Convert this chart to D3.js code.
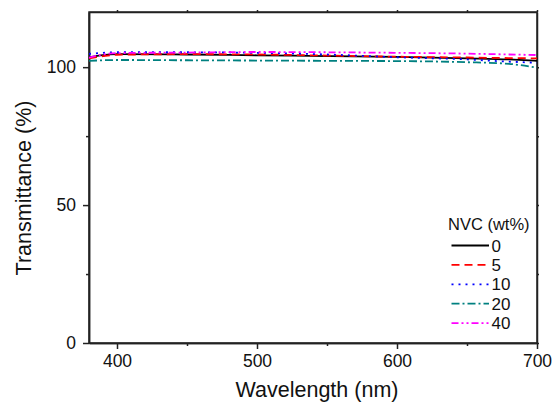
<!DOCTYPE html>
<html>
<head>
  <meta charset="utf-8">
  <style>
    body {
      margin: 0;
      background: #fff;
      font-family: "Liberation Sans", Arial, sans-serif;
    }
    .axis path, .axis line {
      stroke: #222;
      stroke-width: 1.5px;
    }
    .axis text {
      font-size: 17.5px;
      fill: #111;
    }
    .axistext {
      font-size: 21.5px;
      fill: #111;
    }
    .legend text {
      font-size: 16.5px;
      fill: #111;
    }
    .legend .label {
      font-size: 17px;
    }
  </style>
</head>
<body>
  <div class="chart"></div>

  <script src="https://cdn.jsdelivr.net/npm/d3@7"></script>
  <script>
    // wavelengths (nm) and transmittance (%)
    let wavelength = [380, 390, 400, 450, 500, 550, 600, 650, 680, 700];
    let nvc0  = [103.6, 104.4, 104.7, 104.6, 104.3, 104.0, 103.7, 103.2, 102.8, 102.3];
    let nvc5  = [103.2, 104.0, 104.5, 104.7, 104.6, 104.2, 103.8, 103.5, 103.3, 103.2];
    let nvc10 = [104.8, 105.2, 105.4, 105.4, 105.2, 104.6, 103.6, 102.8, 102.0, 101.6];
    let nvc20 = [102.3, 102.5, 102.6, 102.5, 102.4, 102.3, 102.2, 101.8, 101.2, 99.8];
    let nvc40 = [103.5, 104.6, 105.1, 105.3, 105.5, 105.4, 105.2, 104.9, 104.6, 104.4];

    let seriesNames = ["0", "5", "10", "20", "40"];
    let seriesValues = [nvc0, nvc5, nvc10, nvc20, nvc40];
    let seriesColors = ["#000000", "#ff0000", "#0000ff", "#008080", "#ff00ff"];
    let seriesDash = ["none", "8,5", "2,5", "8,3,2,3", "7,3,2,3,2,3"];

    let xTicks = [400, 500, 600, 700];
    let xMinor = [450, 550, 650];
    let yTicks = [0, 50, 100];
    let yMinor = [25, 75];

    // setup
    let margin = { top: 12, right: 18, bottom: 61, left: 89 },
      width = 555 - margin.left - margin.right,
      height = 404 - margin.top - margin.bottom;

    let svg = d3.select(".chart").append("svg")
      .attr("width", 555)
      .attr("height", 404)
      .append("g")
      .attr("transform", "translate(" + margin.left + "," + margin.top + ")");

    let x = d3.scaleLinear().domain([380, 700]).range([0, width]);
    let y = d3.scaleLinear().domain([0, 120]).range([height, 0]);

    // frame
    svg.append("rect")
      .attr("width", width)
      .attr("height", height)
      .attr("fill", "none")
      .attr("stroke", "#222")
      .attr("stroke-width", 1.5);

    // major + minor ticks, bottom and left
    svg.append("g")
      .attr("class", "x axis")
      .attr("transform", "translate(0," + height + ")")
      .call(d3.axisBottom(x).tickValues(xTicks).tickSize(6).tickPadding(6).tickSizeOuter(0));
    svg.append("g")
      .attr("class", "x axis")
      .attr("transform", "translate(0," + height + ")")
      .call(d3.axisBottom(x).tickValues(xMinor).tickSize(3).tickFormat("").tickSizeOuter(0));
    svg.append("g")
      .attr("class", "y axis")
      .call(d3.axisLeft(y).tickValues(yTicks).tickSize(6).tickPadding(7).tickSizeOuter(0));
    svg.append("g")
      .attr("class", "y axis")
      .call(d3.axisLeft(y).tickValues(yMinor).tickSize(3).tickFormat("").tickSizeOuter(0));

    // tiny ticks on top and right
    svg.append("g")
      .attr("class", "x axis")
      .call(d3.axisTop(x).tickValues(xTicks.concat(xMinor)).tickSize(2).tickFormat("").tickSizeOuter(0));
    svg.append("g")
      .attr("class", "y axis")
      .attr("transform", "translate(" + width + ",0)")
      .call(d3.axisRight(y).tickValues(yTicks.concat(yMinor)).tickSize(2).tickFormat("").tickSizeOuter(0));

    // axis titles
    svg.append("text")
      .attr("class", "axistext")
      .attr("x", width / 2 + 4)
      .attr("y", height + 54)
      .style("text-anchor", "middle")
      .text("Wavelength (nm)");
    svg.append("text")
      .attr("class", "axistext")
      .attr("transform", "rotate(-90)")
      .attr("x", -(188 - margin.top))
      .attr("y", 31 - margin.left)
      .style("text-anchor", "middle")
      .text("Transmittance (%)");

    // lines
    let line = d3.line()
      .curve(d3.curveMonotoneX)
      .x(function (d) { return x(d[0]); })
      .y(function (d) { return y(d[1]); });

    for (let i = 0; i < seriesValues.length; i++) {
      let pts = wavelength.map(function (w, j) { return [w, seriesValues[i][j]]; });
      svg.append("path")
        .datum(pts)
        .attr("fill", "none")
        .attr("stroke", seriesColors[i])
        .attr("stroke-width", 1.8)
        .attr("stroke-dasharray", seriesDash[i])
        .attr("d", line);
    }

    // legend
    let legend = svg.append("g")
      .attr("class", "legend")
      .attr("transform", "translate(" + (448 - margin.left) + "," + (230 - margin.top) + ")");
    legend.append("text")
      .attr("x", 0)
      .attr("y", 0)
      .text("NVC (wt%)");
    for (let i = 0; i < seriesNames.length; i++) {
      let ry = 15.5 + i * 19.4;
      legend.append("line")
        .attr("x1", 3.5)
        .attr("x2", 41)
        .attr("y1", ry)
        .attr("y2", ry)
        .attr("stroke", seriesColors[i])
        .attr("stroke-width", 1.8)
        .attr("stroke-dasharray", seriesDash[i]);
      legend.append("text")
        .attr("class", "label")
        .attr("x", 43.5)
        .attr("y", ry + 6)
        .text(seriesNames[i]);
    }
  </script>
</body>
</html>
